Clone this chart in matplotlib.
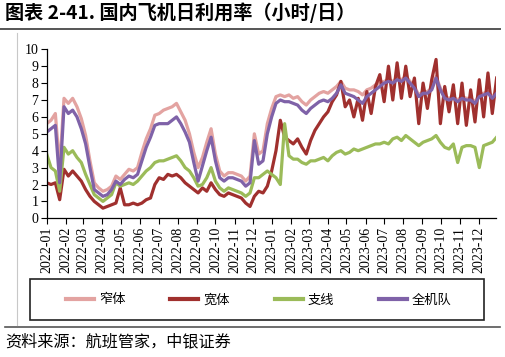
import matplotlib
matplotlib.use("Agg")
import matplotlib.pyplot as plt
import matplotlib.dates as mdates
from matplotlib.patches import Rectangle
from matplotlib.lines import Line2D
import pandas as pd

# weekly readings, starting 2022-01-01
narrow = [5.6, 5.8, 6.2, 3.0, 7.1, 6.8, 7.1, 6.6, 5.9, 4.9,
          3.4, 2.1, 1.8, 1.6, 1.7, 1.9, 2.5, 2.3, 2.6, 2.9,
          2.8, 3.0, 3.9, 4.7, 5.3, 6.1, 6.2, 6.4, 6.5, 6.6,
          6.8, 6.3, 5.8, 5.0, 3.9, 3.0, 3.6, 4.5, 5.3, 3.8,
          2.8, 2.5, 2.7, 2.7, 2.6, 2.5, 2.2, 2.5, 5.0, 3.8,
          4.0, 5.6, 6.5, 7.2, 7.3, 7.2, 7.3, 7.1, 7.2, 6.9,
          6.7, 7.0, 7.2, 7.4, 7.5, 7.4, 7.6, 7.8, 8.1, 7.7,
          7.6, 7.6, 7.5, 7.3, 7.6, 7.7, 7.9, 8.0, 8.1, 8.2,
          8.1, 8.3, 8.2, 8.4, 8.1, 7.8, 7.3, 7.5, 7.5, 7.7,
          8.4, 7.7, 7.2, 7.1, 7.2, 7.0, 7.2, 7.1, 7.1, 6.9,
          7.3, 7.4, 7.5, 7.2, 7.5]
wide = [2.1, 2.0, 2.1, 1.1, 2.9, 2.5, 2.8, 2.5, 2.2, 1.7,
        1.3, 1.0, 0.8, 0.6, 0.7, 0.8, 0.9, 1.8, 0.8, 0.8,
        0.9, 0.8, 0.9, 1.1, 1.2, 2.0, 2.4, 2.3, 2.6, 2.5,
        2.6, 2.4, 2.1, 1.9, 1.7, 1.5, 1.8, 1.6, 2.1, 1.7,
        1.4, 1.3, 1.5, 1.4, 1.3, 1.2, 0.9, 0.7, 1.3, 1.6,
        1.5, 1.9, 2.8, 4.0, 5.8, 4.8, 4.6, 4.4, 4.7, 4.2,
        3.8, 4.6, 5.2, 5.6, 6.0, 6.3, 6.9, 7.3, 8.1, 6.6,
        7.0, 6.0, 7.1, 5.8, 7.5, 6.2, 7.8, 8.5, 6.9, 9.0,
        7.0, 9.2, 7.1, 9.0, 7.2, 8.3, 5.6, 8.0, 6.5, 8.2,
        9.4, 5.6, 7.8, 6.3, 7.9, 5.6, 8.0, 5.5, 7.6, 5.7,
        8.2, 6.0, 8.6, 6.2, 8.3]
regional = [3.8, 3.0, 2.8, 1.6, 4.2, 3.8, 4.0, 3.6, 3.3, 2.6,
            2.0, 1.4, 1.2, 1.0, 1.2, 1.4, 2.1, 1.9, 2.0, 2.1,
            2.0, 2.2, 2.5, 2.8, 3.0, 3.3, 3.4, 3.4, 3.5, 3.6,
            3.7, 3.4, 3.0, 2.8, 2.4, 1.9, 2.0, 2.4, 3.0, 2.2,
            1.8, 1.6, 1.8, 1.7, 1.6, 1.5, 1.3, 1.5, 2.4, 2.4,
            2.6, 2.8, 2.6, 2.4, 2.0, 5.6, 3.7, 3.5, 3.5, 3.3,
            3.2, 3.4, 3.4, 3.5, 3.6, 3.4, 3.7, 3.9, 4.0, 3.8,
            3.9, 4.1, 4.0, 4.1, 4.2, 4.3, 4.4, 4.4, 4.5, 4.4,
            4.7, 4.8, 4.6, 4.9, 4.7, 4.5, 4.3, 4.5, 4.6, 4.7,
            4.9, 4.5, 4.2, 4.1, 4.4, 3.3, 4.2, 4.3, 4.3, 4.2,
            3.0, 4.3, 4.4, 4.5, 4.8]
fleet = [5.1, 5.3, 5.5, 2.1, 6.6, 6.2, 6.4, 6.0, 5.3, 4.4,
         3.0, 1.7, 1.5, 1.3, 1.4, 1.7, 2.2, 2.0, 2.3, 2.5,
         2.4, 2.6, 3.4, 4.2, 4.8, 5.5, 5.6, 5.6, 5.6, 5.8,
         6.0, 5.6, 5.1, 4.5, 3.3, 2.2, 3.1, 4.0, 4.8, 3.4,
         2.4, 2.2, 2.4, 2.4, 2.3, 2.2, 1.9, 2.1, 4.6, 3.2,
         3.4, 5.0, 6.0, 6.8, 7.0, 6.9, 6.9, 6.8, 6.7, 6.4,
         6.2, 6.5, 6.7, 6.9, 7.0, 6.9, 7.1, 7.4, 7.9, 7.4,
         7.3, 7.2, 7.0, 6.8, 7.2, 7.4, 7.6, 7.8, 8.0, 8.1,
         8.0, 8.2, 8.1, 8.3, 8.0, 7.7, 7.2, 7.4, 7.4, 7.6,
         8.3, 7.6, 7.1, 7.0, 7.1, 6.9, 7.1, 7.0, 7.0, 6.8,
         7.2, 7.3, 7.4, 7.1, 7.4]

labels = ["窄体", "宽体", "支线", "全机队"]
colors = ["#E3A3A1", "#A0302E", "#9BBB59", "#7F62A8"]

dates = pd.date_range("2022-01-01", periods=len(narrow), freq="7D")
month_ticks = pd.date_range("2022-01-01", "2023-12-01", freq="MS")

cjk = ["Noto Sans CJK SC", "DejaVu Sans"]

fig = plt.figure(figsize=(5.05, 3.57), dpi=100)
ax = fig.add_axes([46.7 / 505, 1 - 218.3 / 357, (496 - 46.7) / 505, (218.3 - 49.3) / 357])

for ys, c in zip([narrow, wide, regional, fleet], colors):
    ax.plot(dates, ys, color=c, lw=2.3, solid_joinstyle="round")

ax.set_ylim(0, 10)
ax.set_yticks(range(0, 11))
ax.set_xlim(pd.Timestamp("2022-01-01"), pd.Timestamp("2023-12-29"))
ax.set_xticks(month_ticks)
ax.xaxis.set_major_formatter(mdates.DateFormatter("%Y-%m"))
for lab in ax.get_xticklabels() + ax.get_yticklabels():
    lab.set_family("Liberation Serif")
    lab.set_fontsize(10)
for lab in ax.get_xticklabels():
    lab.set_rotation(90)
ax.tick_params(axis="both", direction="out", length=4, width=0.8, pad=2)
for s in ["top", "right"]:
    ax.spines[s].set_visible(False)
for s in ["left", "bottom"]:
    ax.spines[s].set_linewidth(0.9)

# title and rules
fig.text(5 / 505, 1 - 13 / 357, "图表 2-41. 国内飞机日利用率（小时/日）",
         family=cjk, fontsize=13.8, fontweight="bold", va="center", ha="left")
fig.add_artist(Line2D([0, 500 / 505], [1 - 29 / 357] * 2, color="#555555", lw=1.4))
fig.add_artist(Line2D([5 / 505, 500 / 505], [1 - 327 / 357] * 2, color="#555555", lw=1.2))
fig.add_artist(Line2D([16.7 / 505] * 2, [1 - 33 / 357, 1 - 325 / 357], color="#C8C8C8", lw=0.8))

# legend with its own box
fig.add_artist(Rectangle((30 / 505, 1 - 320 / 357), 454 / 505, 41 / 357,
                         transform=fig.transFigure, fill=False, ec="#222222", lw=1.2))
handles = [Line2D([], [], color=c, lw=3) for c in colors]
fig.legend(handles, labels, loc="center", bbox_to_anchor=(259 / 505, 1 - 300 / 357),
           ncol=4, frameon=False, prop={"family": cjk, "size": 9.5},
           handlelength=2.1, handletextpad=0.4, columnspacing=3.4)

fig.text(5 / 505, 1 - 342 / 357, "资料来源：航班管家，中银证券",
         family=cjk, fontsize=11.6, style="italic", va="center", ha="left")

fig.savefig("out.png", dpi=100)
